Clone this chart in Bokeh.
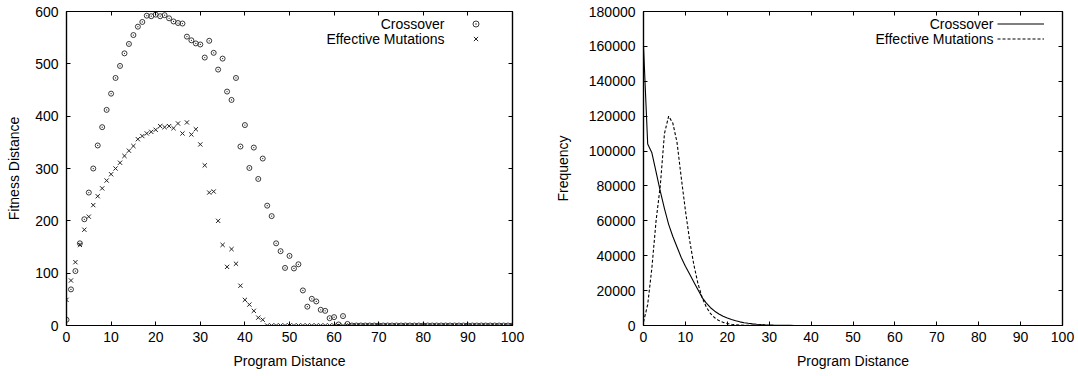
from bokeh.plotting import figure
from bokeh.layouts import row
from bokeh.models import (Range1d, LinearAxis, FixedTicker, Legend, LegendItem, Label,
                          ColumnDataSource, BasicTickFormatter)
from bokeh.embed import file_html
from bokeh.resources import INLINE

# ---------------- data ----------------
program_distance = list(range(0, 101))

crossover_fitness = [
    11, 69, 104, 157, 203, 254, 300, 344, 379, 412,
    443, 473, 496, 520, 538, 555, 571, 580, 592, 591,
    594, 591, 593, 587, 581, 578, 577, 552, 545, 539,
    537, 512, 544, 521, 489, 510, 447, 431, 473, 342,
    383, 301, 340, 280, 319, 229, 209, 157, 142, 110,
    133, 109, 117, 67, 36, 51, 46, 30, 28, 14,
    16, 2, 18, 3, 0, 0, 0, 0, 0, 0,
    0, 0, 0, 0, 0, 0, 0, 0, 0, 0,
    0, 0, 0, 0, 0, 0, 0, 0, 0, 0,
    0, 0, 0, 0, 0, 0, 0, 0, 0, 0,
    0,
]

mutation_fitness = [
    49, 86, 121, 154, 183, 208, 230, 247, 262, 277,
    289, 300, 311, 324, 334, 343, 356, 362, 367, 370,
    374, 381, 379, 381, 377, 386, 367, 388, 365, 375,
    346, 306, 254, 256, 200, 154, 112, 146, 118, 76,
    49, 40, 28, 15, 11, 0, 0, 0, 0, 0,
    0, 0, 0, 0, 0, 0, 0, 0, 0, 0,
    0, 0, 0, 0, 0, 0, 0, 0, 0, 0,
    0, 0, 0, 0, 0, 0, 0, 0, 0, 0,
    0, 0, 0, 0, 0, 0, 0, 0, 0, 0,
    0, 0, 0, 0, 0, 0, 0, 0, 0, 0,
    0,
]

crossover_freq = [
    160000, 104000, 99000, 88000, 77000, 67000, 58000, 51000, 45000, 39000,
    34000, 29500, 25000, 20500, 16000, 12800, 10200, 8200, 6600, 5300,
    4300, 3400, 2700, 2100, 1600, 1250, 950, 720, 540, 400,
    300, 220, 160, 110, 80, 60, 40, 30, 20, 15,
    10, 8, 6, 4, 3, 2, 1, 1, 1, 0,
    0, 0, 0, 0, 0, 0, 0, 0, 0, 0,
    0, 0, 0, 0, 0, 0, 0, 0, 0, 0,
    0, 0, 0, 0, 0, 0, 0, 0, 0, 0,
    0, 0, 0, 0, 0, 0, 0, 0, 0, 0,
    0, 0, 0, 0, 0, 0, 0, 0, 0, 0,
    0,
]

mutation_freq = [
    2000, 12000, 33000, 60000, 80000, 110000, 120000, 116000, 105000, 85000,
    66000, 49000, 35000, 24000, 16000, 10500, 6800, 4400, 2800, 1800,
    1100, 700, 450, 280, 170, 100, 60, 40, 25, 15,
    10, 5, 3, 2, 1, 0, 0, 0, 0, 0,
    0, 0, 0, 0, 0, 0, 0, 0, 0, 0,
    0, 0, 0, 0, 0, 0, 0, 0, 0, 0,
    0, 0, 0, 0, 0, 0, 0, 0, 0, 0,
    0, 0, 0, 0, 0, 0, 0, 0, 0, 0,
    0, 0, 0, 0, 0, 0, 0, 0, 0, 0,
    0, 0, 0, 0, 0, 0, 0, 0, 0, 0,
    0,
]

x_ticks = [0, 10, 20, 30, 40, 50, 60, 70, 80, 90, 100]
left_y_ticks = [0, 100, 200, 300, 400, 500, 600]
right_y_ticks = [0, 20000, 40000, 60000, 80000, 100000, 120000, 140000, 160000, 180000]

FONT = "Liberation Sans"
FS = "14px"


def style_axis(ax, ticks, show_labels=True):
    ax.ticker = FixedTicker(ticks=ticks)
    ax.formatter = BasicTickFormatter(use_scientific=False)
    ax.minor_tick_line_color = None
    ax.major_tick_in = 4
    ax.major_tick_out = 0
    ax.major_tick_line_color = "black"
    ax.major_tick_line_width = 1
    ax.axis_line_color = "black"
    ax.axis_line_width = 1.2
    if show_labels:
        ax.major_label_text_font = FONT
        ax.major_label_text_font_size = FS
        ax.major_label_text_color = "black"
        ax.major_label_standoff = 8
        ax.axis_label_text_font = FONT
        ax.axis_label_text_font_size = FS
        ax.axis_label_text_font_style = "normal"
        ax.axis_label_text_color = "black"
    else:
        # mirror ticks only (gnuplot style): labels are not drawn
        ax.major_label_text_font_size = "1px"
        ax.major_label_text_color = None
        ax.major_label_standoff = 0
        ax.axis_label = None


def make_fig(width, border_left, border_right, y_max):
    p = figure(width=width, height=376, output_backend="svg", toolbar_location=None,
               x_range=Range1d(0, 100), y_range=Range1d(0, y_max),
               min_border_left=border_left, min_border_right=border_right,
               min_border_top=11, min_border_bottom=51)
    p.grid.visible = False
    p.outline_line_color = "black"
    p.outline_line_width = 1.2
    p.background_fill_color = "white"
    p.border_fill_color = "white"
    return p


# ---------------- left figure ----------------
p1 = make_fig(540, 66, 28, 600)
style_axis(p1.xaxis[0], x_ticks)
style_axis(p1.yaxis[0], left_y_ticks)
p1.xaxis[0].major_label_standoff = 6
p1.xaxis[0].axis_label = "Program Distance"
p1.yaxis[0].axis_label = "Fitness Distance"
p1.xaxis[0].axis_label_standoff = 8
p1.yaxis[0].axis_label_standoff = 10
top1 = LinearAxis()
right1 = LinearAxis()
style_axis(top1, x_ticks, False)
style_axis(right1, left_y_ticks, False)
p1.add_layout(top1, "above")
p1.add_layout(right1, "right")

src1 = ColumnDataSource(dict(x=program_distance, c=crossover_fitness, m=mutation_fitness))
r_c = p1.scatter("x", "c", source=src1, marker="circle_dot", size=5,
                 line_color="#222222", line_width=0.9, fill_color=None)
r_m = p1.scatter("x", "m", source=src1, marker="x", size=6,
                 line_color="#222222", line_width=1)

leg1 = Legend(items=[LegendItem(label="", renderers=[r_c]),
                     LegendItem(label="", renderers=[r_m])],
              location=(385.5, 279.5), padding=0, margin=0, spacing=0,
              glyph_width=47, glyph_height=15, label_height=15, label_width=0,
              label_standoff=0, label_text_font_size="1px", label_text_color=None,
              border_line_color=None, background_fill_alpha=0)
p1.add_layout(leg1)
p1.add_layout(Label(x=378, y=302, x_units="screen", y_units="screen", text="Crossover",
                    text_align="right", text_baseline="middle", text_font=FONT,
                    text_font_size=FS, text_color="black"))
p1.add_layout(Label(x=378, y=287, x_units="screen", y_units="screen",
                    text="Effective Mutations", text_align="right",
                    text_baseline="middle", text_font=FONT, text_font_size=FS,
                    text_color="black"))

# ---------------- right figure ----------------
p2 = make_fig(538, 103, 16, 180000)
style_axis(p2.xaxis[0], x_ticks)
style_axis(p2.yaxis[0], right_y_ticks)
p2.xaxis[0].major_label_standoff = 6
p2.xaxis[0].axis_label = "Program Distance"
p2.yaxis[0].axis_label = "Frequency"
p2.xaxis[0].axis_label_standoff = 8
p2.yaxis[0].axis_label_standoff = 15
top2 = LinearAxis()
right2 = LinearAxis()
style_axis(top2, x_ticks, False)
style_axis(right2, right_y_ticks, False)
p2.add_layout(top2, "above")
p2.add_layout(right2, "right")

src2 = ColumnDataSource(dict(x=program_distance, c=crossover_freq, m=mutation_freq))
l_c = p2.line("x", "c", source=src2, line_color="black", line_width=1.1)
l_m = p2.line("x", "m", source=src2, line_color="black", line_width=1.1, line_dash="3 2")

leg2 = Legend(items=[LegendItem(label="", renderers=[l_c]),
                     LegendItem(label="", renderers=[l_m])],
              location=(354, 279.5), padding=0, margin=0, spacing=0,
              glyph_width=47, glyph_height=15, label_height=15, label_width=0,
              label_standoff=0, label_text_font_size="1px", label_text_color=None,
              border_line_color=None, background_fill_alpha=0)
p2.add_layout(leg2)
p2.add_layout(Label(x=350, y=302, x_units="screen", y_units="screen", text="Crossover",
                    text_align="right", text_baseline="middle", text_font=FONT,
                    text_font_size=FS, text_color="black"))
p2.add_layout(Label(x=350, y=287, x_units="screen", y_units="screen",
                    text="Effective Mutations", text_align="right",
                    text_baseline="middle", text_font=FONT, text_font_size=FS,
                    text_color="black"))

layout = row(p1, p2)
open("out.html", "w").write(file_html(layout, INLINE))
